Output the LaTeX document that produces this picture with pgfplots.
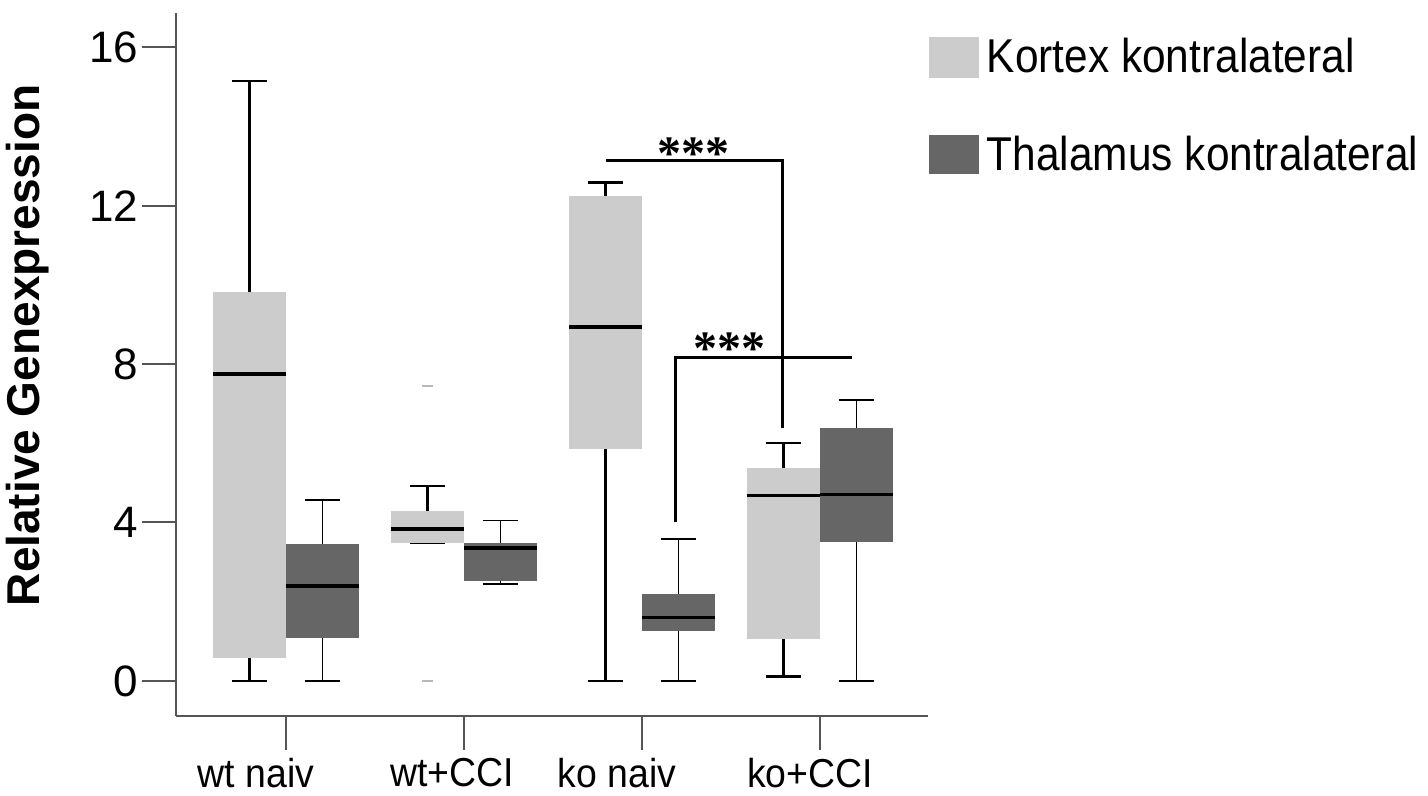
\documentclass[border=0pt]{standalone}
\usepackage{fontspec}
\setmainfont{Liberation Sans}
\newfontfamily\starfont{Liberation Serif}
\usepackage{graphicx}
\usepackage{pgfplots}
\pgfplotsset{compat=1.18}
\usepgfplotslibrary{statistics}

\definecolor{kortex}{HTML}{CCCCCC}
\definecolor{thalamus}{HTML}{666666}
\definecolor{axisgray}{HTML}{555555}
\definecolor{outliergray}{HTML}{B8B8B8}
\newcommand{\vs}[1]{\scalebox{1}[1.12]{#1}}
\newcommand{\vx}[1]{\scalebox{1}[1.08]{#1}}

\pgfplotsset{
  kbox/.style={forget plot,
    boxplot/draw direction=y,
    boxplot/box extend=0.41, boxplot/whisker extend=0.2,
    boxplot/every box/.style={draw=none, fill=kortex},
    boxplot/every median/.style={draw=black, line width=1.8pt},
    boxplot/every whisker/.style={draw=black, line width=1.2pt}},
  tbox/.style={forget plot,
    boxplot/draw direction=y,
    boxplot/box extend=0.41, boxplot/whisker extend=0.2,
    boxplot/every box/.style={draw=none, fill=thalamus},
    boxplot/every median/.style={draw=black, line width=1.8pt},
    boxplot/every whisker/.style={draw=black, line width=0.9pt}},
}

\begin{document}
\begin{tikzpicture}
\useasboundingbox (0,0) rectangle (714pt,398pt);
\begin{axis}[
  at={(88pt,40pt)}, anchor=south west,
  scale only axis, width=376pt, height=351.6pt,
  xmin=-0.618, xmax=3.607, ymin=-0.886, ymax=16.87,
  axis lines=left,
  axis line style={axisgray, line width=1pt, -},
  tick style={axisgray, line width=1pt},
  tick align=outside,
  major tick length=17pt,
  xtick={0,1,2,3},
  xticklabels={{\vx{wt naiv}\hspace*{30pt}},{\vx{wt+CCI}\hspace*{12pt}},
               {\vx{ko naiv}\hspace*{25pt}},{\vx{ko+CCI}\hspace*{10pt}}},
  ytick={0,4,8,12,16},
  yticklabels={0,4,8,12,16},
  xticklabel style={font=\fontsize{18.7}{18.7}\selectfont, inner sep=0pt, yshift=-4pt},
  yticklabel style={font=\fontsize{22}{22}\selectfont, inner xsep=1.6pt},
  ylabel={\bfseries Relative Genexpression},
  ylabel style={font=\fontsize{23}{23}\selectfont, at={(axis description cs:-0.197,0.527)}, anchor=center},
  legend style={draw=none, fill=none, inner sep=0pt, outer sep=0pt,
    at={(axis description cs:1.0015,0.965)}, anchor=north west,
    row sep=28.2pt, font=\fontsize{21.2}{21.2}\selectfont,
    cells={anchor=base west}, nodes={inner sep=0pt}},
  clip=false,
]

% wt naiv
\addplot[kbox, boxplot prepared={draw position=-0.205,
  lower whisker=0, lower quartile=0.58, median=7.75,
  upper quartile=9.82, upper whisker=15.15}] coordinates {};
\addplot[tbox, boxplot prepared={draw position=0.205,
  lower whisker=0, lower quartile=1.08, median=2.40,
  upper quartile=3.46, upper whisker=4.57}] coordinates {};

% wt+CCI (with two outliers)
\addplot[kbox, mark=-, mark size=2.75pt, mark options={draw=outliergray, line width=1pt},
  boxplot prepared={draw position=0.795,
  lower whisker=3.49, lower quartile=3.49, median=3.84,
  upper quartile=4.30, upper whisker=4.92}]
  table[row sep=\\, y index=0] {data\\ 7.44\\ 0\\};
\addplot[tbox, boxplot prepared={draw position=1.205,
  lower whisker=2.44, lower quartile=2.53, median=3.36,
  upper quartile=3.49, upper whisker=4.05}] coordinates {};

% ko naiv
\addplot[kbox, boxplot prepared={draw position=1.795,
  lower whisker=0, lower quartile=5.86, median=8.94,
  upper quartile=12.25, upper whisker=12.58}] coordinates {};
\addplot[tbox, boxplot prepared={draw position=2.205,
  lower whisker=0, lower quartile=1.26, median=1.60,
  upper quartile=2.19, upper whisker=3.58}] coordinates {};

% ko+CCI
\addplot[kbox, boxplot prepared={draw position=2.795,
  lower whisker=0.11, lower quartile=1.07, median=4.68,
  upper quartile=5.37, upper whisker=6.00}] coordinates {};
\addplot[tbox, boxplot prepared={draw position=3.205,
  lower whisker=0, lower quartile=3.52, median=4.71,
  upper quartile=6.39, upper whisker=7.09}] coordinates {};

% significance brackets
\draw[black, line width=1.5pt] (axis cs:1.80,13.15) -| (axis cs:2.79,6.38);
\draw[black, line width=1.5pt] (axis cs:2.19,4.00) |- (axis cs:3.18,8.17);
\node[anchor=base, inner sep=0pt, font=\starfont\bfseries\fontsize{24}{24}\selectfont] at (axis cs:2.29,12.91) {***};
\node[anchor=base, inner sep=0pt, font=\starfont\bfseries\fontsize{24}{24}\selectfont] at (axis cs:2.49,7.99) {***};

% legend swatches, with a gap before the entry text
\addlegendimage{legend image code/.code={\fill[kortex] (0pt,-2.5pt) rectangle (24.5pt,17.5pt); \path (28.5pt,0pt);}}
\addlegendentry{\vs{Kortex kontralateral}}
\addlegendimage{legend image code/.code={\fill[thalamus] (0pt,-1.5pt) rectangle (24.5pt,17.5pt); \path (28.5pt,0pt);}}
\addlegendentry{\vs{Thalamus kontralateral}}
\end{axis}
\end{tikzpicture}
\end{document}
